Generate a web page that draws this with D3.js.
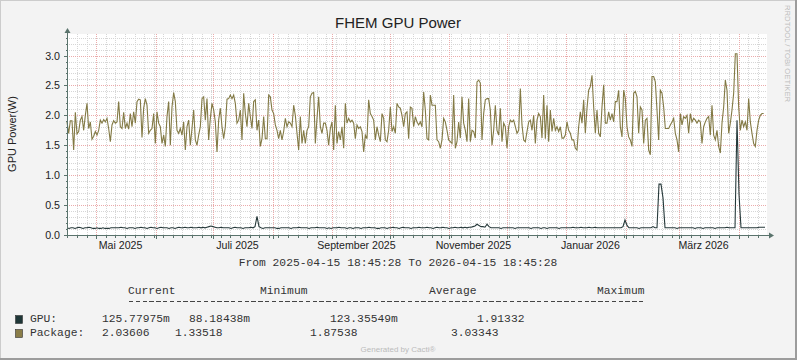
<!DOCTYPE html>
<html><head><meta charset="utf-8">
<script src="https://cdn.jsdelivr.net/npm/d3@7"></script>
<style>body{margin:0;background:#f3f3f3}svg{display:block}</style>
</head><body><svg id="c" width="797" height="360"></svg>
<script>
const chartTitle = "FHEM GPU Power";
const yAxisTitle = "GPU Power(W)";
const startTime = "2025-04-15T18:45:28";
const endTime = "2026-04-15T18:45:28";
const yTickValues = [0, 0.5, 1.0, 1.5, 2.0, 2.5, 3.0];
const monthLabels = [["2025-05-01","Mai 2025"],["2025-07-01","Juli 2025"],["2025-09-01","September 2025"],["2025-11-01","November 2025"],["2026-01-01","Januar 2026"],["2026-03-01","März 2026"]];
const legendHeaders = ["Current","Minimum","Average","Maximum"];
const seriesNames = ["GPU:","Package:"];
const gpuStats = ["125.77975m","88.18438m","123.35549m","1.91332"];
const packageStats = ["2.03606","1.33518","1.87538","3.03343"];

const gpuValues = [
0.12,0.11,0.12,0.12,0.11,0.12,0.13,0.12,0.11,0.12,
0.12,0.13,0.12,0.11,0.11,0.12,0.11,0.11,0.12,0.11,
0.11,0.11,0.12,0.12,0.12,0.12,0.12,0.13,0.12,0.12,
0.11,0.12,0.12,0.12,0.11,0.12,0.12,0.13,0.12,0.12,
0.11,0.12,0.13,0.12,0.12,0.11,0.12,0.13,0.12,0.12,
0.12,0.11,0.12,0.12,0.11,0.12,0.13,0.12,0.12,0.13,
0.12,0.12,0.13,0.12,0.12,0.12,0.13,0.12,0.13,0.12,
0.13,0.14,0.15,0.14,0.13,0.12,0.12,0.13,0.12,0.12,
0.12,0.12,0.11,0.12,0.13,0.12,0.12,0.12,0.11,0.12,
0.12,0.12,0.13,0.12,0.14,0.31,0.14,0.12,0.11,0.12,
0.12,0.12,0.12,0.12,0.12,0.11,0.11,0.12,0.12,0.12,
0.12,0.12,0.11,0.12,0.12,0.12,0.13,0.12,0.12,0.12,
0.12,0.11,0.12,0.12,0.12,0.13,0.12,0.12,0.12,0.12,
0.11,0.12,0.11,0.12,0.12,0.12,0.13,0.12,0.12,0.12,
0.11,0.12,0.12,0.11,0.12,0.12,0.12,0.11,0.12,0.12,
0.12,0.13,0.12,0.12,0.12,0.11,0.11,0.12,0.12,0.12,
0.11,0.12,0.12,0.13,0.12,0.12,0.11,0.12,0.13,0.12,
0.12,0.12,0.11,0.12,0.12,0.12,0.13,0.12,0.12,0.12,
0.13,0.12,0.12,0.11,0.12,0.13,0.12,0.12,0.13,0.12,
0.12,0.11,0.12,0.12,0.13,0.12,0.12,0.13,0.12,0.13,
0.12,0.13,0.13,0.14,0.15,0.18,0.16,0.14,0.14,0.13,
0.18,0.14,0.12,0.12,0.12,0.12,0.12,0.11,0.12,0.12,
0.12,0.12,0.12,0.12,0.11,0.12,0.12,0.12,0.12,0.12,
0.12,0.12,0.11,0.12,0.12,0.12,0.12,0.11,0.12,0.12,
0.11,0.12,0.12,0.12,0.12,0.12,0.11,0.12,0.12,0.12,
0.12,0.12,0.12,0.13,0.12,0.12,0.12,0.13,0.12,0.12,
0.12,0.13,0.12,0.12,0.13,0.12,0.12,0.12,0.12,0.12,
0.12,0.12,0.12,0.12,0.12,0.12,0.12,0.12,0.14,0.25,
0.16,0.12,0.12,0.12,0.12,0.12,0.11,0.12,0.12,0.12,
0.12,0.12,0.12,0.14,0.12,0.12,0.85,0.85,0.62,0.12,
0.12,0.12,0.12,0.12,0.12,0.11,0.12,0.12,0.12,0.12,
0.12,0.12,0.12,0.12,0.11,0.12,0.12,0.12,0.11,0.12,
0.12,0.12,0.12,0.12,0.11,0.12,0.12,0.12,0.12,0.12,
0.13,0.12,0.12,0.12,0.12,1.92,0.68,0.12,0.12,0.12,
0.12,0.12,0.12,0.12,0.12,0.12,0.13,0.13,0.13,0.13];

const packageValues = [
1.89,1.70,1.91,1.91,1.42,2.05,1.69,1.73,1.92,
1.98,1.75,2.00,2.20,1.78,1.89,1.60,1.65,1.73,1.67,
1.75,1.92,1.87,1.93,1.89,1.95,1.78,1.56,1.84,1.91,
1.87,1.89,2.23,1.81,1.78,2.05,1.78,1.87,1.77,
2.03,1.81,2.06,1.87,2.23,2.27,2.26,1.63,2.12,2.28,
2.17,1.70,1.75,1.78,2.03,1.53,2.06,1.87,1.81,1.53,
1.67,1.48,1.98,2.23,1.50,2.14,2.38,2.23,1.75,1.70,
1.78,1.67,1.89,1.42,1.81,1.92,1.50,1.78,2.09,
1.59,1.50,1.67,1.81,2.28,2.31,1.92,2.28,1.59,1.95,
2.20,2.09,1.89,1.39,1.92,2.12,1.81,1.61,1.81,2.27,
2.28,2.34,2.28,2.34,2.20,1.87,1.92,
2.09,1.59,2.37,2.03,1.81,2.20,1.98,1.78,2.23,2.26,
1.75,1.92,1.48,1.61,1.98,1.61,1.61,2.34,2.31,2.09,
2.03,1.84,1.75,1.61,1.75,1.59,1.73,1.95,1.81,1.89,
1.87,1.81,2.17,2.00,1.70,1.42,1.98,1.53,1.75,1.53,
1.75,1.81,2.31,2.37,2.38,1.53,1.95,2.31,1.81,1.70,
1.87,1.87,1.75,1.50,1.78,1.89,1.42,2.17,1.53,1.73,
1.59,1.81,1.45,2.20,1.87,1.95,1.89,1.92,1.87,1.61,
1.84,1.78,1.81,1.73,1.39,1.67,1.61,2.26,2.03,1.98,
1.92,1.59,1.81,1.67,1.56,2.03,1.95,1.59,1.56,1.75,
2.14,1.73,1.81,1.70,2.20,2.14,2.12,2.00,1.81,2.03,
2.06,1.61,2.14,2.12,1.81,1.98,1.89,1.84,
1.89,1.81,2.39,2.09,1.61,1.59,2.34,2.17,2.17,2.17,
1.59,1.56,1.45,1.59,1.95,1.89,1.75,1.59,1.56,1.53,
2.34,1.45,1.56,1.89,1.62,2.31,1.87,1.75,1.56,2.28,
1.56,1.75,1.73,1.62,2.56,2.59,2.54,1.59,2.03,2.26,
2.28,2.28,2.09,1.50,1.75,2.17,1.75,1.67,2.12,1.56,
1.87,1.81,1.45,1.81,1.92,1.89,1.92,1.81,1.70,1.75,
2.45,1.84,1.59,1.56,1.73,1.89,1.92,1.75,2.00,1.53,
1.92,2.03,1.98,1.62,2.34,1.61,2.17,1.56,2.09,1.73,
1.95,1.75,1.81,1.73,1.81,1.62,1.62,1.67,1.89,1.75,
1.70,1.59,1.59,1.45,1.42,1.81,2.06,1.87,2.26,1.70,
2.12,2.42,2.48,2.67,2.14,1.70,2.09,1.70,
1.64,2.14,2.51,1.87,1.87,2.06,1.92,2.03,1.89,2.23,
2.23,2.42,1.81,1.64,2.42,2.28,1.81,1.64,1.59,1.48,
2.37,2.40,2.31,1.70,2.14,2.09,1.53,1.92,1.95,1.42,
1.34,2.65,2.65,2.56,2.09,1.59,2.42,2.37,2.14,1.78,
1.78,1.78,1.84,1.89,1.95,1.70,1.59,1.39,2.03,1.84,
1.98,1.95,2.00,1.70,2.03,1.89,1.95,1.92,1.87,1.92,
1.89,1.53,1.81,1.89,1.95,1.98,1.67,2.17,1.67,1.59,
1.75,1.48,1.37,1.87,2.14,2.59,2.42,1.70,1.87,2.09,
2.37,3.03,3.03,2.14,1.75,1.92,1.81,1.89,1.75,2.28,
1.89,1.70,1.53,1.48,1.75,1.92,2.00,2.03,2.03];

(function () {
const svg = d3.select("#c");
const W = 797, H = 360;
const pL = 67, pR = 767, pT = 34, pB = 235;
const t0 = new Date(startTime), t1 = new Date(endTime);
const x = d3.scaleTime().domain([t0, t1]).range([pL, pR]);
const y = d3.scaleLinear().domain([0, 3.36]).range([pB, pT]);
const axisColor = "#5a736c";
const sans = "'Liberation Sans', Arial, sans-serif";
const mono = "'Liberation Mono', 'Courier New', monospace";

svg.append("rect").attr("width", W).attr("height", H).attr("fill", "#f3f3f3");
svg.append("line").attr("x1",0).attr("x2",W).attr("y1",0.5).attr("y2",0.5).attr("stroke","#cccccc");
svg.append("line").attr("x1",0.5).attr("x2",0.5).attr("y1",0).attr("y2",H).attr("stroke","#cccccc");
svg.append("line").attr("x1",0).attr("x2",W).attr("y1",H-1).attr("y2",H-1).attr("stroke","#9c9c9c").attr("stroke-width",2);
svg.append("line").attr("x1",W-1).attr("x2",W-1).attr("y1",0).attr("y2",H).attr("stroke","#9c9c9c").attr("stroke-width",2);

svg.append("rect").attr("x", pL).attr("y", pT).attr("width", pR-pL).attr("height", pB-pT).attr("fill", "#ffffff");

const grid = svg.append("g").attr("shape-rendering","crispEdges");
const px = v => Math.round(v) + 0.5;
const minorY = d3.range(1, 34).map(k => k/10).filter(v => Math.round(v*10) % 5 !== 0);
grid.selectAll(".hy").data(minorY).join("line")
  .attr("x1", pL).attr("x2", pR).attr("y1", d => px(y(d))).attr("y2", d => px(y(d)))
  .attr("stroke", "#d6d6d6").attr("stroke-dasharray", "1,1");
const minorX = d3.timeDay.range(t0, t1, 5);
grid.selectAll(".vx").data(minorX).join("line")
  .attr("x1", d => px(x(d))).attr("x2", d => px(x(d))).attr("y1", pT).attr("y2", pB)
  .attr("stroke", "#d6d6d6").attr("stroke-dasharray", "1,1");
grid.selectAll(".my").data(yTickValues.filter(v => v > 0)).join("line")
  .attr("x1", pL).attr("x2", pR).attr("y1", d => px(y(d))).attr("y2", d => px(y(d)))
  .attr("stroke", "#ebabab").attr("stroke-dasharray", "1,1");
const months = d3.timeMonth.range(t0, t1);
grid.selectAll(".mx").data(months).join("line")
  .attr("x1", d => px(x(d))).attr("x2", d => px(x(d))).attr("y1", pT).attr("y2", pB)
  .attr("stroke", "#ebabab").attr("stroke-dasharray", "1,1");

const pkgStep = (t1 - t0) / 420;
const gpuPts = gpuValues.map((v, i) => [new Date(+t0 + i*(t1 - t0)/gpuValues.length), v]);
const pkgPts = packageValues.map((v, i) => [new Date(+t0 + i*pkgStep), v]);
const line = d3.line().x(d => x(d[0])).y(d => y(d[1]));
svg.append("path").attr("d", line(pkgPts)).attr("fill","none").attr("stroke","#837a45").attr("stroke-width",1.1);
svg.append("path").attr("d", line(gpuPts)).attr("fill","none").attr("stroke","#26393a").attr("stroke-width",1.1);

const ax = svg.append("g").attr("shape-rendering","crispEdges");
ax.append("line").attr("x1", pL+0.5).attr("x2", pL+0.5).attr("y1", pB+3).attr("y2", 31).attr("stroke", axisColor);
ax.append("line").attr("x1", pL-3).attr("x2", 770).attr("y1", pB+0.5).attr("y2", pB+0.5).attr("stroke", axisColor);
svg.append("path").attr("d", `M${pL-2.5},33 L${pL+0.5},28 L${pL+3.5},33 Z`).attr("fill", axisColor);
svg.append("path").attr("d", `M769,${pB-2.5} L774,${pB+0.5} L769,${pB+3.5} Z`).attr("fill", axisColor);
ax.selectAll(".yt").data(d3.range(0, 34).map(k => k/10)).join("line")
  .attr("x1", d => Math.round(d*10) % 5 === 0 ? pL-3 : pL-1).attr("x2", pL)
  .attr("y1", d => px(y(d))).attr("y2", d => px(y(d))).attr("stroke", axisColor);
ax.selectAll(".xt").data(minorX).join("line")
  .attr("x1", d => px(x(d))).attr("x2", d => px(x(d))).attr("y1", pB+1).attr("y2", pB+3).attr("stroke", axisColor);
ax.selectAll(".xm").data(months).join("line")
  .attr("x1", d => px(x(d))).attr("x2", d => px(x(d))).attr("y1", pB+1).attr("y2", pB+4).attr("stroke", axisColor);

svg.selectAll(".yl").data(yTickValues).join("text")
  .attr("x", 60).attr("y", d => y(d) + 4)
  .attr("text-anchor", "end").attr("font-family", sans).attr("font-size", 10.7).attr("fill", "#222")
  .text(d => d.toFixed(1));
const labelOffset = 12.7 * 86400000;
svg.selectAll(".xl").data(monthLabels).join("text")
  .attr("x", d => x(new Date(+new Date(d[0] + "T00:00:00") + labelOffset))).attr("y", 249)
  .attr("text-anchor", "middle").attr("font-family", sans).attr("font-size", 10.6).attr("fill", "#222")
  .text(d => d[1]);

svg.append("text").attr("x", 398).attr("y", 28).attr("text-anchor","middle")
  .attr("font-family", sans).attr("font-size", 15).attr("fill", "#222").text(chartTitle);
svg.append("text").attr("transform", "translate(15.5,134) rotate(-90)").attr("text-anchor","middle")
  .attr("font-family", sans).attr("font-size", 11).attr("fill", "#222").text(yAxisTitle);
svg.append("text").attr("transform", "translate(785,5) rotate(90)").attr("text-anchor","start")
  .attr("font-family", sans).attr("font-size", 7.7).attr("fill", "#bdbdbd").text("RRDTOOL / TOBI OETIKER");
svg.append("text").attr("x", 398).attr("y", 266).attr("text-anchor","middle")
  .attr("font-family", mono).attr("font-size", 11.3).attr("fill", "#333")
  .text(`From ${startTime.replace("T"," ")} To ${endTime.replace("T"," ")}`);

const hdrX = [128, 260, 429, 597];
svg.selectAll(".lh").data(legendHeaders).join("text")
  .attr("x", (d,i) => hdrX[i]).attr("y", 294).attr("font-family", mono).attr("font-size", 11.3).attr("fill", "#333").text(d => d);
svg.append("line").attr("x1", 129).attr("x2", 645).attr("y1", 301.5).attr("y2", 301.5)
  .attr("stroke", "#444").attr("stroke-width", 1).attr("stroke-dasharray", "4.3,2.5").attr("shape-rendering","crispEdges");
const rows = [
  {name: seriesNames[0], stats: gpuStats, color: "#1e3637", xs: [102, 189, 330, 477], y: 322},
  {name: seriesNames[1], stats: packageStats, color: "#8a7d48", xs: [102, 175, 310, 451], y: 336}
];
rows.forEach(r => {
  svg.append("rect").attr("x", 15.5).attr("y", r.y - 6.5).attr("width", 7).attr("height", 8)
    .attr("fill", r.color).attr("stroke", "#333").attr("stroke-width", 0.6);
  svg.append("text").attr("x", 30).attr("y", r.y).attr("font-family", mono).attr("font-size", 11.3).attr("fill", "#333").text(r.name);
  r.stats.forEach((s, i) => svg.append("text").attr("x", r.xs[i]).attr("y", r.y)
    .attr("font-family", mono).attr("font-size", 11.3).attr("fill", "#333").text(s));
});
svg.append("text").attr("x", 398).attr("y", 352).attr("text-anchor","middle")
  .attr("font-family", sans).attr("font-size", 8).attr("fill", "#bbbbbb").text("Generated by Cacti®");
})();
</script></body></html>
